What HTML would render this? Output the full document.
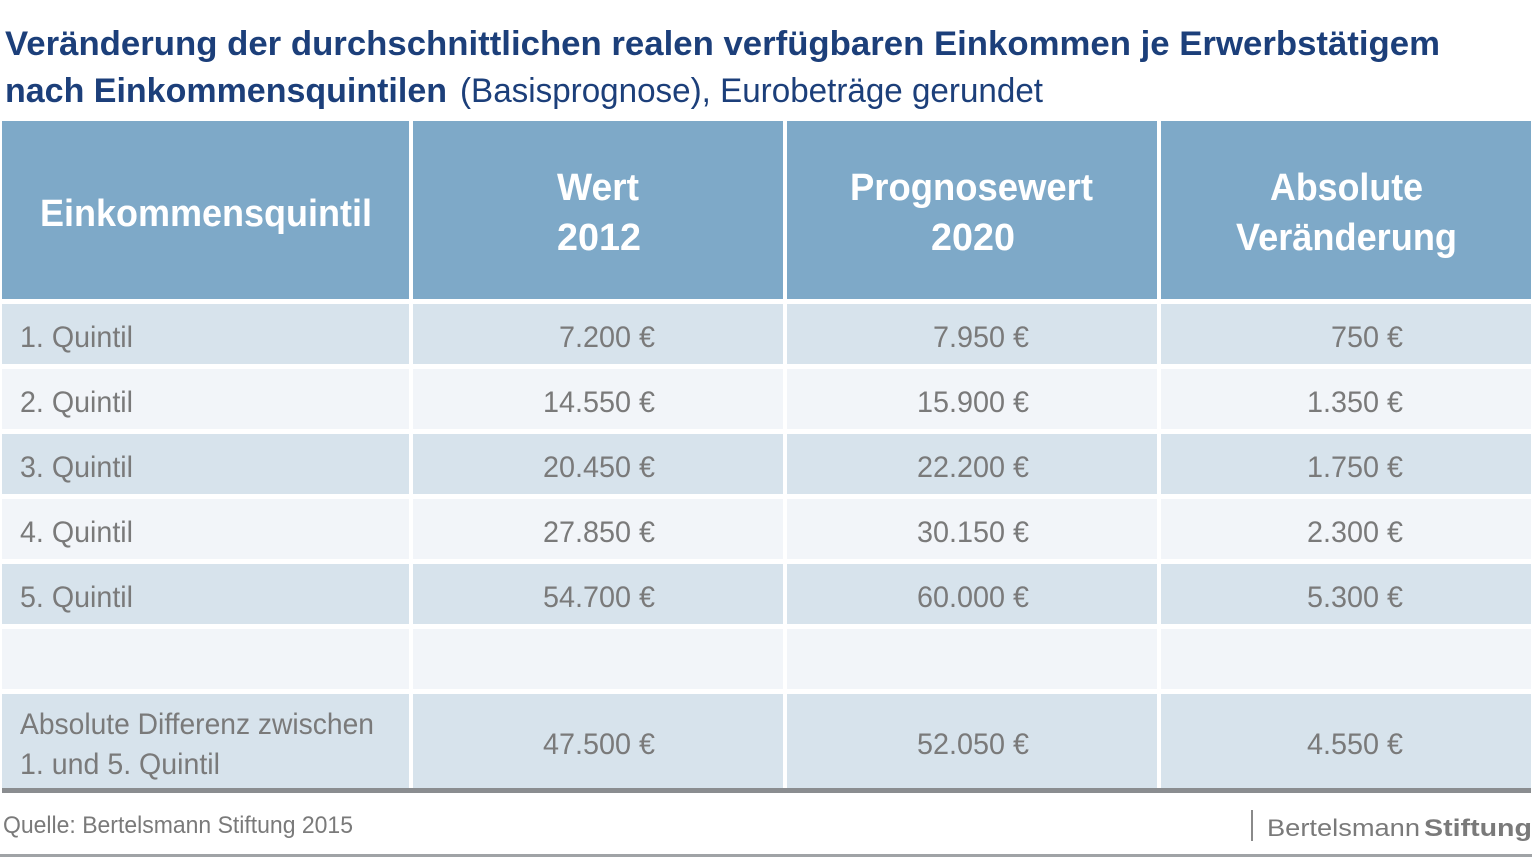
<!DOCTYPE html>
<html><head><meta charset="utf-8"><style>html,body{margin:0;padding:0;background:#fff;}svg{display:block}</style></head>
<body>
<svg width="1536" height="863" viewBox="0 0 1536 863" xmlns="http://www.w3.org/2000/svg" font-family="Liberation Sans, sans-serif">
<rect width="1536" height="863" fill="#fff"/>
<g fill="#1c3f7a">
<text x="5" y="55" font-size="34" font-weight="bold" textLength="1435" lengthAdjust="spacingAndGlyphs">Veränderung der durchschnittlichen realen verfügbaren Einkommen je Erwerbstätigem</text>
<text x="5" y="102" font-size="34" font-weight="bold" textLength="442" lengthAdjust="spacingAndGlyphs">nach Einkommensquintilen</text>
<text x="460" y="102" font-size="34" textLength="583" lengthAdjust="spacingAndGlyphs">(Basisprognose), Eurobeträge gerundet</text>
</g>
<g fill="#7ea9c8">
<rect x="2" y="121" width="407" height="178"/><rect x="413" y="121" width="370" height="178"/><rect x="787" y="121" width="370" height="178"/><rect x="1161" y="121" width="370" height="178"/>
</g>
<g fill="#fff" font-size="38" font-weight="bold">
<text x="40" y="226" textLength="332" lengthAdjust="spacingAndGlyphs">Einkommensquintil</text>
<text x="557" y="200" textLength="82" lengthAdjust="spacingAndGlyphs">Wert</text>
<text x="557" y="250" textLength="84" lengthAdjust="spacingAndGlyphs">2012</text>
<text x="850" y="200" textLength="243" lengthAdjust="spacingAndGlyphs">Prognosewert</text>
<text x="931" y="250" textLength="84" lengthAdjust="spacingAndGlyphs">2020</text>
<text x="1270" y="200" textLength="153" lengthAdjust="spacingAndGlyphs">Absolute</text>
<text x="1236" y="250" textLength="221" lengthAdjust="spacingAndGlyphs">Veränderung</text>
</g>
<g>
<g fill="#d7e3ec"><rect x="2" y="304" width="407" height="60"/><rect x="413" y="304" width="370" height="60"/><rect x="787" y="304" width="370" height="60"/><rect x="1161" y="304" width="370" height="60"/></g>
<g fill="#f2f5f9"><rect x="2" y="369" width="407" height="60"/><rect x="413" y="369" width="370" height="60"/><rect x="787" y="369" width="370" height="60"/><rect x="1161" y="369" width="370" height="60"/></g>
<g fill="#d7e3ec"><rect x="2" y="434" width="407" height="60"/><rect x="413" y="434" width="370" height="60"/><rect x="787" y="434" width="370" height="60"/><rect x="1161" y="434" width="370" height="60"/></g>
<g fill="#f2f5f9"><rect x="2" y="499" width="407" height="60"/><rect x="413" y="499" width="370" height="60"/><rect x="787" y="499" width="370" height="60"/><rect x="1161" y="499" width="370" height="60"/></g>
<g fill="#d7e3ec"><rect x="2" y="564" width="407" height="60"/><rect x="413" y="564" width="370" height="60"/><rect x="787" y="564" width="370" height="60"/><rect x="1161" y="564" width="370" height="60"/></g>
<g fill="#f2f5f9"><rect x="2" y="629" width="407" height="60"/><rect x="413" y="629" width="370" height="60"/><rect x="787" y="629" width="370" height="60"/><rect x="1161" y="629" width="370" height="60"/></g>
<g fill="#d7e3ec"><rect x="2" y="694" width="407" height="95"/><rect x="413" y="694" width="370" height="95"/><rect x="787" y="694" width="370" height="95"/><rect x="1161" y="694" width="370" height="95"/></g>
</g>
<rect x="2" y="788" width="1529" height="5" fill="#8a8d90"/>
<g fill="#7a7a7a" font-size="30">
<text x="20" y="347" textLength="113" lengthAdjust="spacingAndGlyphs">1. Quintil</text>
<text x="20" y="412" textLength="113" lengthAdjust="spacingAndGlyphs">2. Quintil</text>
<text x="20" y="477" textLength="113" lengthAdjust="spacingAndGlyphs">3. Quintil</text>
<text x="20" y="542" textLength="113" lengthAdjust="spacingAndGlyphs">4. Quintil</text>
<text x="20" y="607" textLength="113" lengthAdjust="spacingAndGlyphs">5. Quintil</text>
<text x="20" y="734" textLength="354" lengthAdjust="spacingAndGlyphs">Absolute Differenz zwischen</text>
<text x="20" y="774" textLength="200" lengthAdjust="spacingAndGlyphs">1. und 5. Quintil</text>

<text x="559" y="347" textLength="96" lengthAdjust="spacingAndGlyphs">7.200 €</text>
<text x="933" y="347" textLength="96" lengthAdjust="spacingAndGlyphs">7.950 €</text>
<text x="1331" y="347" textLength="72" lengthAdjust="spacingAndGlyphs">750 €</text>

<text x="543" y="412" textLength="112" lengthAdjust="spacingAndGlyphs">14.550 €</text>
<text x="917" y="412" textLength="112" lengthAdjust="spacingAndGlyphs">15.900 €</text>
<text x="1307" y="412" textLength="96" lengthAdjust="spacingAndGlyphs">1.350 €</text>

<text x="543" y="477" textLength="112" lengthAdjust="spacingAndGlyphs">20.450 €</text>
<text x="917" y="477" textLength="112" lengthAdjust="spacingAndGlyphs">22.200 €</text>
<text x="1307" y="477" textLength="96" lengthAdjust="spacingAndGlyphs">1.750 €</text>

<text x="543" y="542" textLength="112" lengthAdjust="spacingAndGlyphs">27.850 €</text>
<text x="917" y="542" textLength="112" lengthAdjust="spacingAndGlyphs">30.150 €</text>
<text x="1307" y="542" textLength="96" lengthAdjust="spacingAndGlyphs">2.300 €</text>

<text x="543" y="607" textLength="112" lengthAdjust="spacingAndGlyphs">54.700 €</text>
<text x="917" y="607" textLength="112" lengthAdjust="spacingAndGlyphs">60.000 €</text>
<text x="1307" y="607" textLength="96" lengthAdjust="spacingAndGlyphs">5.300 €</text>

<text x="543" y="754" textLength="112" lengthAdjust="spacingAndGlyphs">47.500 €</text>
<text x="917" y="754" textLength="112" lengthAdjust="spacingAndGlyphs">52.050 €</text>
<text x="1307" y="754" textLength="96" lengthAdjust="spacingAndGlyphs">4.550 €</text>
</g>
<g fill="#7a7a7a">
<text x="3" y="833" font-size="24" textLength="350" lengthAdjust="spacingAndGlyphs">Quelle: Bertelsmann Stiftung 2015</text>
<rect x="1251" y="810" width="2" height="31" fill="#8a8a8a"/>
<text x="1267" y="836" font-size="24" textLength="153" lengthAdjust="spacingAndGlyphs">Bertelsmann</text>
<text x="1424" y="836" font-size="24" font-weight="bold" textLength="108" lengthAdjust="spacingAndGlyphs">Stiftung</text>
</g>
<rect x="0" y="854" width="1532" height="3" fill="#a0a3a6"/>
</svg>
</body></html>
